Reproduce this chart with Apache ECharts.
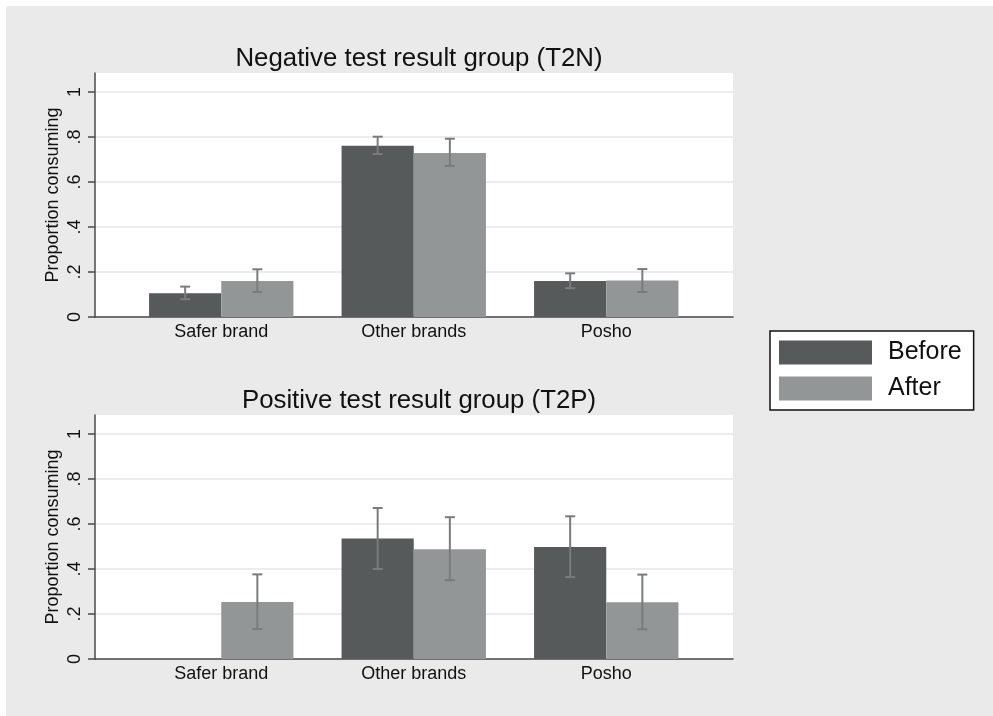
<!DOCTYPE html>
<html>
<head>
<meta charset="utf-8">
<script src="https://cdn.jsdelivr.net/npm/echarts@6/dist/echarts.min.js"></script>
<style>
html,body{margin:0;padding:0;background:#eaeaea;}
#chart{width:993px;height:716px;}
</style>
</head>
<body>
<div id="chart"></div>
<script>
const categories = ['Safer brand', 'Other brands', 'Posho'];
const seriesNames = ['Before', 'After'];
const panelTitles = ['Negative test result group (T2N)', 'Positive test result group (T2P)'];
const yTickValues = [0, 0.2, 0.4, 0.6, 0.8, 1];
const yTickLabels = ['0', '.2', '.4', '.6', '.8', '1'];

// Negative test result group (T2N)
const negBefore = [0.105, 0.761, 0.160];
const negBeforeLo = [0.079, 0.724, 0.128];
const negBeforeHi = [0.135, 0.801, 0.194];
const negAfter = [0.160, 0.729, 0.162];
const negAfterLo = [0.111, 0.671, 0.111];
const negAfterHi = [0.212, 0.792, 0.213];

// Positive test result group (T2P)
const posBefore = [0, 0.535, 0.498];
const posBeforeLo = [null, 0.400, 0.364];
const posBeforeHi = [null, 0.671, 0.634];
const posAfter = [0.253, 0.488, 0.252];
const posAfterLo = [0.133, 0.350, 0.132];
const posAfterHi = [0.376, 0.630, 0.375];

const FONT = '"Liberation Sans", Arial, Helvetica, sans-serif';
const C_BEFORE = '#565a5b';
const C_AFTER = '#939697';
const C_ERR = '#7a7c7c';
const YMAX = 1.084;

const chart = echarts.init(document.getElementById('chart'), null, {renderer: 'canvas'});

const panels = [
  {top: 73, height: 244, before: negBefore, after: negAfter, bLo: negBeforeLo, bHi: negBeforeHi, aLo: negAfterLo, aHi: negAfterHi, titleTop: 41},
  {top: 415, height: 244, before: posBefore, after: posAfter, bLo: posBeforeLo, bHi: posBeforeHi, aLo: posAfterLo, aHi: posAfterHi, titleTop: 383}
];

const grids = [], xAxes = [], yAxes = [], series = [], titles = [];

panels.forEach((p, i) => {
  const bgIdx = grids.length;
  grids.push({left: 95, width: 638, top: p.top, height: p.height, show: true, backgroundColor: '#ffffff', borderWidth: 0});
  xAxes.push({gridIndex: bgIdx, type: 'value', min: 0, max: 1, show: true,
    axisLine: {show: true, onZero: false, lineStyle: {color: '#4a4a4a', width: 1.5}},
    axisTick: {show: false}, axisLabel: {show: false}, splitLine: {show: false}});
  yAxes.push({gridIndex: bgIdx, type: 'value', min: 0, max: YMAX, interval: 0.2,
    name: 'Proportion consuming', nameLocation: 'middle', nameRotate: 90, nameGap: 33, nameMoveOverlap: false,
    nameTextStyle: {fontFamily: FONT, fontSize: 18, color: '#111111'},
    axisLine: {show: true, lineStyle: {color: '#4a4a4a', width: 1.5}},
    axisTick: {show: true, length: 7, customValues: yTickValues, lineStyle: {color: '#4a4a4a', width: 1.5}},
    axisLabel: {show: true, rotate: 90, margin: 11, customValues: yTickValues, fontFamily: FONT, fontSize: 18, color: '#111111',
      formatter: v => { const k = yTickValues.findIndex(t => Math.abs(t - v) < 1e-6); return k >= 0 ? yTickLabels[k] : ''; }},
    splitLine: {show: true, lineStyle: {color: '#e6e6e6', width: 1.5}}});

  const barIdx = grids.length;
  grids.push({left: 125, width: 577.5, top: p.top, height: p.height});
  xAxes.push({gridIndex: barIdx, type: 'category', data: categories, boundaryGap: true,
    axisLine: {show: false}, axisTick: {show: false},
    axisLabel: {margin: 6, fontFamily: FONT, fontSize: 18, color: '#111111'}});
  yAxes.push({gridIndex: barIdx, type: 'value', min: 0, max: YMAX, show: false, splitLine: {show: false}});

  series.push({name: seriesNames[0], type: 'bar', xAxisIndex: barIdx, yAxisIndex: barIdx,
    data: p.before, barGap: '0%', barCategoryGap: '25%',
    itemStyle: {color: C_BEFORE, borderWidth: 0}, animation: false, silent: true});
  series.push({name: seriesNames[1], type: 'bar', xAxisIndex: barIdx, yAxisIndex: barIdx,
    data: p.after, barGap: '0%', barCategoryGap: '25%',
    itemStyle: {color: C_AFTER, borderWidth: 0}, animation: false, silent: true});

  const errData = [];
  categories.forEach((c, j) => {
    if (p.bLo[j] != null) errData.push([j, p.bLo[j], p.bHi[j], -1]);
    if (p.aLo[j] != null) errData.push([j, p.aLo[j], p.aHi[j], 1]);
  });
  series.push({name: 'ci' + i, type: 'custom', xAxisIndex: barIdx, yAxisIndex: barIdx, data: errData,
    z: 5, animation: false, silent: true,
    renderItem: (params, api) => {
      const j = api.value(0);
      const lo = api.coord([j, api.value(1)]);
      const hi = api.coord([j, api.value(2)]);
      const band = api.size([1, 0])[0];
      const x = lo[0] + api.value(3) * band * 0.1875;
      const cap = 5;
      const style = {stroke: C_ERR, lineWidth: 2, fill: null};
      return {type: 'group', children: [
        {type: 'line', shape: {x1: x, y1: lo[1], x2: x, y2: hi[1]}, style},
        {type: 'line', shape: {x1: x - cap, y1: lo[1], x2: x + cap, y2: lo[1]}, style},
        {type: 'line', shape: {x1: x - cap, y1: hi[1], x2: x + cap, y2: hi[1]}, style}
      ]};
    }});

  titles.push({text: panelTitles[i], left: 414, top: p.titleTop, textAlign: 'center',
    textStyle: {fontFamily: FONT, fontSize: 25.8, fontWeight: 'normal', color: '#111111'}});
});

chart.setOption({
  backgroundColor: '#ffffff',
  animation: false,
  graphic: [{type: 'rect', shape: {x: 6, y: 6, width: 1000, height: 720}, style: {fill: '#eaeaea'}, z: -10, silent: true}],
  title: titles,
  grid: grids,
  xAxis: xAxes,
  yAxis: yAxes,
  legend: {data: seriesNames, orient: 'vertical', left: 770, top: 331,
    itemWidth: 93, itemHeight: 24, itemGap: 11, icon: 'rect',
    padding: [9, 12, 9, 9], backgroundColor: '#ffffff', borderColor: '#111111', borderWidth: 1.5, borderRadius: 0,
    selectedMode: false,
    textStyle: {fontFamily: FONT, fontSize: 25, lineHeight: 24, color: '#111111', padding: [0, 0, 0, 11]}},
  series: series
});
</script>
</body>
</html>
